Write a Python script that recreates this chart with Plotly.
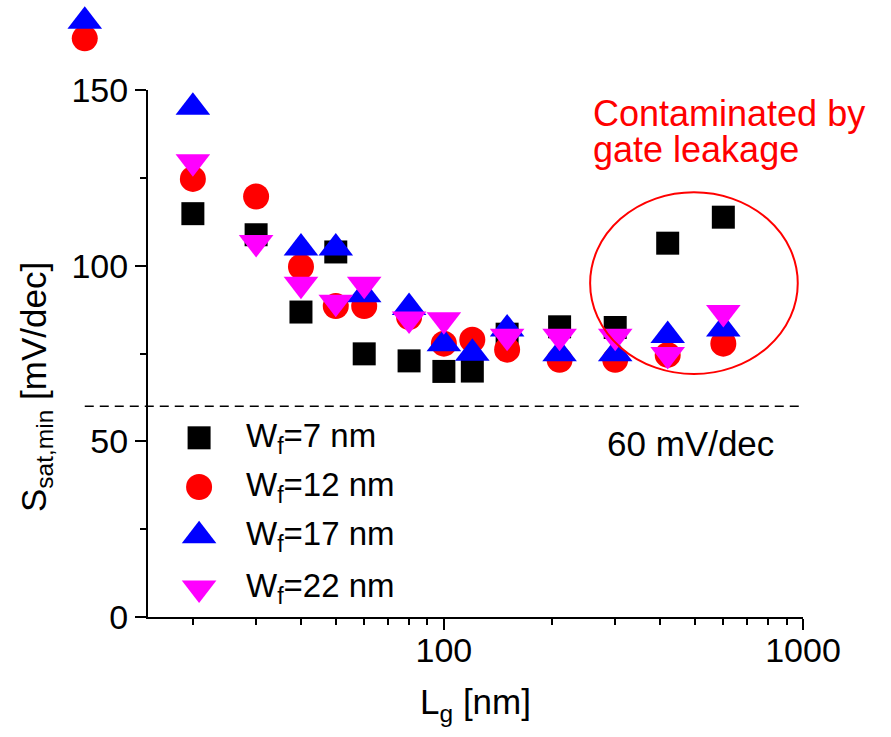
import numpy as np
import plotly.graph_objects as go

# ---------------- data ----------------
Lg = [10, 20, 30, 40, 50, 60, 80, 100, 120, 150, 210, 300, 420, 600]
S_w7 = [None, 114.8, 108.8, 86.8, 103.9, 74.9, 72.9, 69.9, 70.0, 80.5, 82.6, 82.4, 106.4, 113.8]
S_w12 = [164.7, 124.7, 119.7, 99.7, 88.5, 88.5, 85.4, 77.8, 78.9, 76.1, 73.2, 73.2, 74.6, 77.8]
S_w17 = [169.6, 145.1, None, 105.0, 105.0, 91.7, 88.1, 77.8, 75.1, 82.0, 74.9, 74.9, 80.1, 82.0]
S_w22 = [None, 129.6, 106.6, 94.7, 89.6, 94.7, 84.8, 84.6, None, 79.9, 79.9, 79.9, 74.7, 86.7]

series_names = ["W<sub>f</sub>=7 nm", "W<sub>f</sub>=12 nm", "W<sub>f</sub>=17 nm", "W<sub>f</sub>=22 nm"]
series_values = [S_w7, S_w12, S_w17, S_w22]
series_colors = ["#000000", "#FF0000", "#0000FF", "#FF00FF"]
series_symbols = ["square", "circle", "triangle-up", "triangle-down"]
series_sizes = [23, 26, 30, 30]

x_tickvals = [100, 1000]
x_ticktext = ["100", "1000"]
x_minor = [20, 30, 40, 50, 60, 70, 80, 90, 200, 300, 400, 500, 600, 700, 800, 900]
y_tickvals = [0, 50, 100, 150]
y_minor = [25, 75, 125]
x_range = [15, 1000]
y_range = [0, 150]
limit_value = 60
limit_x = [10, 1000]

FONT = "Arial, Liberation Sans, sans-serif"

# ---------------- layout geometry (pixels) ----------------
W, H = 891, 737
P_LEFT, P_RIGHT, P_TOP, P_BOTTOM = 148, 803, 90, 617
x_dom = [P_LEFT / W, P_RIGHT / W]
y_dom = [(H - P_BOTTOM) / H, (H - P_TOP) / H]

lx0 = np.log10(x_range[0])
lx1 = np.log10(x_range[1])
# full-figure helper axes with the same scale as the framed axes (so that
# points lying beyond the frame, like Lg = 10 nm, are still drawn)
kx = (lx1 - lx0) / (P_RIGHT - P_LEFT)
x3_range = [lx0 - P_LEFT * kx, lx1 + (W - P_RIGHT) * kx]
ky = (y_range[1] - y_range[0]) / (P_BOTTOM - P_TOP)
y3_range = [y_range[0] - (H - P_BOTTOM) * ky, y_range[1] + P_TOP * ky]

fig = go.Figure()

# invisible trace that anchors the framed axes
fig.add_trace(go.Scatter(x=x_range, y=y_range, mode="markers", xaxis="x", yaxis="y",
                         marker=dict(opacity=0), hoverinfo="skip", showlegend=False))

# 60 mV/dec reference line
fig.add_trace(go.Scatter(x=limit_x, y=[limit_value, limit_value], mode="lines",
                         xaxis="x3", yaxis="y3", hoverinfo="skip", showlegend=False,
                         line=dict(color="black", width=1.6, dash="9px,6px")))

for name, vals, col, sym, sz in zip(series_names, series_values, series_colors, series_symbols, series_sizes):
    fig.add_trace(go.Scatter(
        x=Lg, y=vals, mode="markers", name=name, cliponaxis=False, showlegend=False,
        xaxis="x3", yaxis="y3",
        marker=dict(symbol=sym, size=sz, color=col, line=dict(width=0)),
    ))

# manual legend (large markers) on an auxiliary 0..1 axis pair over the frame
leg_x_marker = 0.078
leg_x_text = 0.146
leg_rows = [0.340, 0.2467, 0.154, 0.055]
for name, col, sym, sz, yy in zip(series_names, series_colors, series_symbols, series_sizes, leg_rows):
    fig.add_trace(go.Scatter(
        x=[leg_x_marker], y=[yy], mode="markers", xaxis="x2", yaxis="y2",
        cliponaxis=False, showlegend=False, hoverinfo="skip",
        marker=dict(symbol=sym, size=sz, color=col, line=dict(width=0)),
    ))
    fig.add_annotation(x=leg_x_text, y=yy, xref="x2", yref="y2", text=name,
                       showarrow=False, xanchor="left", yanchor="middle",
                       font=dict(family=FONT, size=33, color="black"))

fig.add_shape(type="circle", xref="x domain", yref="y domain", x0=0.675, x1=0.992, y0=0.461, y1=0.806,
              line=dict(color="#FF0000", width=2))

fig.add_annotation(x=0.698, y=0.330, xref="x domain", yref="y domain", text="60 mV/dec",
                   showarrow=False, xanchor="left", yanchor="middle",
                   font=dict(family=FONT, size=35, color="black"))
fig.add_annotation(x=0.677, y=0.955, xref="x domain", yref="y domain", text="Contaminated by",
                   showarrow=False, xanchor="left", yanchor="middle",
                   font=dict(family=FONT, size=36, color="#FF0000"))
fig.add_annotation(x=0.677, y=0.888, xref="x domain", yref="y domain", text="gate leakage",
                   showarrow=False, xanchor="left", yanchor="middle",
                   font=dict(family=FONT, size=36, color="#FF0000"))
fig.add_annotation(x=-0.172, y=0.437, xref="x domain", yref="y domain",
                   text="S<sub>sat,min</sub> [mV/dec]", textangle=-90,
                   showarrow=False, xanchor="center", yanchor="middle",
                   font=dict(family=FONT, size=35, color="black"))

fig.update_layout(
    width=W, height=H, autosize=False,
    margin=dict(l=0, r=0, t=0, b=0, pad=0, autoexpand=False),
    paper_bgcolor="white", plot_bgcolor="rgba(0,0,0,0)",
    font=dict(family=FONT, size=34, color="black"),
    showlegend=False,
    xaxis=dict(
        domain=x_dom, anchor="y", automargin=False,
        type="log", range=[lx0, lx1], showline=True, linewidth=2, linecolor="black",
        ticks="outside", ticklen=11, tickwidth=2, tickcolor="black",
        tickvals=x_tickvals, ticktext=x_ticktext, tickfont=dict(size=34),
        ticklabelstandoff=-9,
        minor=dict(tickvals=x_minor, ticks="outside", ticklen=6, tickwidth=2, tickcolor="black"),
        showgrid=False, zeroline=False,
        title=dict(text="L<sub>g</sub> [nm]", font=dict(size=35), standoff=22),
    ),
    yaxis=dict(
        domain=y_dom, anchor="x", automargin=False,
        range=y_range, showline=True, linewidth=2, linecolor="black",
        ticks="outside", ticklen=11, tickwidth=2, tickcolor="black",
        tickvals=y_tickvals, tickfont=dict(size=34),
        minor=dict(tickvals=y_minor, ticks="outside", ticklen=6, tickwidth=2, tickcolor="black"),
        showgrid=False, zeroline=False,
    ),
    xaxis2=dict(overlaying="x", range=[0, 1], visible=False, anchor="y2", automargin=False),
    yaxis2=dict(overlaying="y", range=[0, 1], visible=False, anchor="x2", automargin=False),
    xaxis3=dict(domain=[0, 1], type="log", range=x3_range, visible=False, anchor="y3", automargin=False),
    yaxis3=dict(domain=[0, 1], range=y3_range, visible=False, anchor="x3", automargin=False),
)

fig.write_html("out.html")
